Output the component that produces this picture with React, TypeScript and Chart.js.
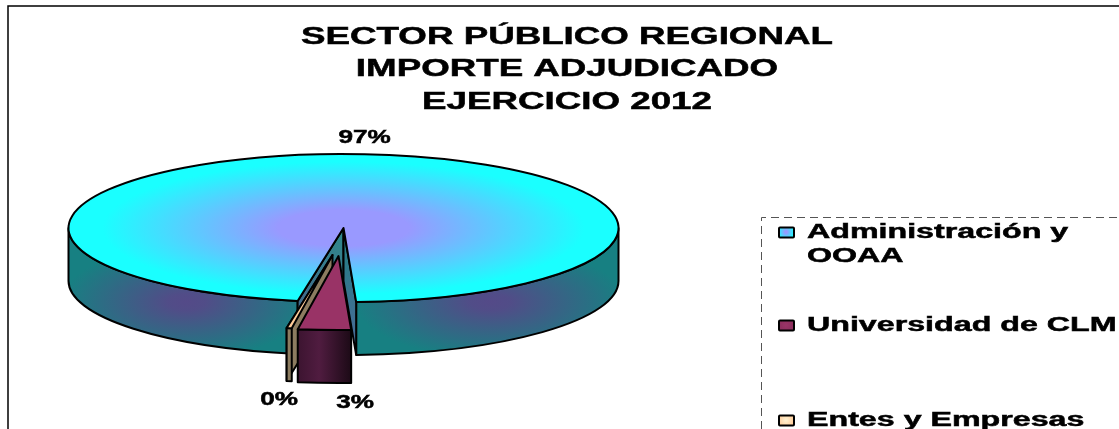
import React, { useEffect, useRef } from "react";
import { Chart, registerables } from "chart.js";

Chart.register(...registerables);

// ---- data ----
const categories = ["Administración y OOAA", "Universidad de CLM", "Entes y Empresas"];
const shares = [96.6, 3.1, 0.3];
const titleLines = ["SECTOR PÚBLICO REGIONAL", "IMPORTE ADJUDICADO", "EJERCICIO 2012"];

// ---- layout / style ----
const W = 1119;
const H = 429;
const FONT = '"Liberation Sans", Arial, sans-serif';
const RADIUS = 275;
const FLAT = 74 / 275;
const DEPTH = 53;
const FIRST_ANGLE = 189.6;
const sliceShift = [
  [0, 0],
  [-5, 28],
  [-11, 27],
];
const labelSpots = [
  [364.5, 143],
  [355, 408],
  [279, 405],
];
const titleBaselines = [44, 76, 109];
const legendBaselines = [238, 331, 426];

function stretchedText(
  ctx: CanvasRenderingContext2D,
  text: string,
  x: number,
  y: number,
  size: number,
  stretch: number,
  align: CanvasTextAlign
) {
  ctx.save();
  ctx.font = `bold ${size}px ${FONT}`;
  ctx.fillStyle = "#000";
  ctx.strokeStyle = "#000";
  ctx.lineWidth = 0.5;
  ctx.textAlign = align;
  ctx.textBaseline = "alphabetic";
  ctx.translate(x, y);
  ctx.scale(stretch, 1);
  ctx.fillText(text, 0, 0);
  ctx.strokeText(text, 0, 0);
  ctx.restore();
}

function wedgePath(ctx: CanvasRenderingContext2D, x: number, y: number, a: number, b: number) {
  ctx.beginPath();
  ctx.moveTo(x, y);
  ctx.ellipse(x, y, RADIUS, RADIUS * FLAT, 0, a, b);
  ctx.closePath();
}

function rim(x: number, y: number, a: number) {
  return [x + Math.cos(a) * RADIUS, y + Math.sin(a) * RADIUS * FLAT];
}

function outerWallPath(ctx: CanvasRenderingContext2D, x: number, y: number, a: number, b: number) {
  ctx.beginPath();
  ctx.ellipse(x, y, RADIUS, RADIUS * FLAT, 0, a, b);
  ctx.ellipse(x, y + DEPTH, RADIUS, RADIUS * FLAT, 0, b, a, true);
  ctx.closePath();
}

function radialWall(
  ctx: CanvasRenderingContext2D,
  x: number,
  y: number,
  a: number,
  fill: string | CanvasGradient
) {
  const [px, py] = rim(x, y, a);
  ctx.beginPath();
  ctx.moveTo(x, y);
  ctx.lineTo(px, py);
  ctx.lineTo(px, py + DEPTH);
  ctx.lineTo(x, y + DEPTH);
  ctx.closePath();
  ctx.fillStyle = fill;
  ctx.fill();
  ctx.stroke();
}

function visibleSpans(a: number, b: number) {
  const out: number[][] = [];
  for (const [lo, hi] of [
    [0, Math.PI],
    [2 * Math.PI, 3 * Math.PI],
  ]) {
    const s = Math.max(a, lo);
    const e = Math.min(b, hi);
    if (e > s) out.push([s, e]);
  }
  return out;
}

function glow(ctx: CanvasRenderingContext2D, cx: number, cy: number, rx: number, ry: number) {
  ctx.save();
  ctx.translate(cx, cy);
  ctx.scale(1, ry / rx);
  const g = ctx.createRadialGradient(0, 0, 0, 0, 0, rx);
  g.addColorStop(0, "rgba(84,74,136,1)");
  g.addColorStop(0.15, "rgba(84,74,136,0.95)");
  g.addColorStop(1, "rgba(84,74,136,0)");
  ctx.fillStyle = g;
  ctx.fillRect(-rx, -rx, rx * 2, rx * 2);
  ctx.restore();
}

const pie3d = {
  id: "pie3d",
  beforeDatasetsDraw(chart: any) {
    const ctx: CanvasRenderingContext2D = chart.ctx;
    const arcs = chart.getDatasetMeta(0).data;
    ctx.save();
    ctx.lineJoin = "round";
    ctx.strokeStyle = "#000";
    ctx.lineWidth = 2;

    // administration: the large body
    const main = arcs[0];
    const mx = main.x;
    const my = main.y;
    for (const [s, e] of visibleSpans(main.startAngle, main.endAngle)) {
      outerWallPath(ctx, mx, my, s, e);
      ctx.save();
      ctx.clip();
      ctx.fillStyle = "#178082";
      ctx.fillRect(0, 0, W, H);
      glow(ctx, mx - 157, my + 74, 125, 56);
      glow(ctx, mx + 147, my + 74, 135, 56);
      ctx.restore();
      outerWallPath(ctx, mx, my, s, e);
      ctx.stroke();
    }
    const leftFace = ctx.createLinearGradient(mx, my, rim(mx, my, main.startAngle)[0], my + 70);
    leftFace.addColorStop(0, "#2f8a8c");
    leftFace.addColorStop(1, "#3f6c8c");
    radialWall(ctx, mx, my, main.startAngle, leftFace);
    const rightFace = ctx.createLinearGradient(mx, my, mx, my + 120);
    rightFace.addColorStop(0, "#1f8082");
    rightFace.addColorStop(1, "#4a6a98");
    radialWall(ctx, mx, my, main.endAngle, rightFace);

    wedgePath(ctx, mx, my, main.startAngle, main.endAngle);
    ctx.save();
    ctx.clip();
    ctx.translate(mx, my);
    ctx.scale(1, 72 / 262);
    const top = ctx.createRadialGradient(0, 0, 0, 0, 0, 262);
    top.addColorStop(0, "#9999ff");
    top.addColorStop(0.25, "#9999ff");
    top.addColorStop(0.92, "#1affff");
    top.addColorStop(1, "#1affff");
    ctx.fillStyle = top;
    ctx.fillRect(-600, -800, 1200, 1600);
    ctx.restore();
    wedgePath(ctx, mx, my, main.startAngle, main.endAngle);
    ctx.stroke();

    // entes: thin sliver, behind the university slice
    const entes = arcs[2];
    const ex = entes.x + sliceShift[2][0];
    const ey = entes.y + sliceShift[2][1];
    radialWall(ctx, ex, ey, entes.endAngle, "#8c7c60");
    outerWallPath(ctx, ex, ey, entes.startAngle, entes.endAngle);
    ctx.fillStyle = "#8c7c60";
    ctx.fill();
    ctx.stroke();
    wedgePath(ctx, ex, ey, entes.startAngle, entes.endAngle);
    ctx.fillStyle = "#ffcc99";
    ctx.fill();
    ctx.stroke();

    // university: exploded slice
    const uni = arcs[1];
    const ux = uni.x + sliceShift[1][0];
    const uy = uni.y + sliceShift[1][1];
    const [lx] = rim(ux, uy, uni.endAngle);
    const [rx] = rim(ux, uy, uni.startAngle);
    const face = ctx.createLinearGradient(lx, 0, rx, 0);
    face.addColorStop(0, "#3c1430");
    face.addColorStop(0.4, "#501c40");
    face.addColorStop(1, "#1c0a16");
    outerWallPath(ctx, ux, uy, uni.startAngle, uni.endAngle);
    ctx.fillStyle = face;
    ctx.fill();
    ctx.stroke();
    wedgePath(ctx, ux, uy, uni.startAngle, uni.endAngle);
    ctx.fillStyle = "#993366";
    ctx.fill();
    ctx.stroke();

    ctx.restore();
    return false;
  },
  afterDraw(chart: any) {
    const ctx: CanvasRenderingContext2D = chart.ctx;
    const values: number[] = chart.data.datasets[0].data;
    const total = values.reduce((p, v) => p + v, 0);

    // chart frame: open at the right and bottom
    ctx.save();
    ctx.strokeStyle = "#000";
    ctx.lineWidth = 1.5;
    ctx.beginPath();
    ctx.moveTo(8, H);
    ctx.lineTo(8, 6);
    ctx.lineTo(W, 6);
    ctx.stroke();
    ctx.restore();

    titleLines.forEach((t, i) => stretchedText(ctx, t, 567, titleBaselines[i], 24, 1.53, "center"));

    values.forEach((v, i) => {
      const [x, y] = labelSpots[i];
      stretchedText(ctx, `${Math.round((v / total) * 100)}%`, x, y, 18, 1.45, "center");
    });

    // legend frame, dashed
    ctx.save();
    ctx.strokeStyle = "#555";
    ctx.lineWidth = 1;
    ctx.setLineDash([8, 5]);
    ctx.beginPath();
    ctx.moveTo(761.5, H);
    ctx.lineTo(761.5, 217.5);
    ctx.lineTo(W, 217.5);
    ctx.stroke();
    ctx.restore();

    // legend entries
    const swatches = [
      ["#9999ff", "#1affff"],
      ["#993366", "#8a2d5c"],
      ["#ffeecc", "#ffcc99"],
    ];
    categories.forEach((name, i) => {
      const base = legendBaselines[i];
      const g = ctx.createRadialGradient(786, base - 6, 1, 786, base - 6, 8);
      g.addColorStop(0, swatches[i][0]);
      g.addColorStop(1, swatches[i][1]);
      ctx.save();
      ctx.fillStyle = g;
      ctx.strokeStyle = "#000";
      ctx.lineWidth = 2;
      ctx.beginPath();
      ctx.roundRect(779, base - 10.5, 15, 10, 1);
      ctx.fill();
      ctx.stroke();
      ctx.restore();

      // wrap the label to the room left in the picture
      ctx.save();
      ctx.font = `bold 20px ${FONT}`;
      const stretch = 1.61;
      const lines: string[] = [];
      let line = "";
      for (const word of name.split(" ")) {
        const next = line ? `${line} ${word}` : word;
        if (ctx.measureText(next).width * stretch > 316 && line) {
          lines.push(line);
          line = word;
        } else {
          line = next;
        }
      }
      lines.push(line);
      ctx.restore();
      lines.forEach((l, n) => stretchedText(ctx, l, 807, base + n * 24, 20, stretch, "left"));
    });
  },
};

export default function App() {
  const ref = useRef<HTMLCanvasElement>(null);
  useEffect(() => {
    const chart = new Chart(ref.current as HTMLCanvasElement, {
      type: "pie",
      data: {
        labels: categories,
        datasets: [{ data: shares, backgroundColor: ["#1affff", "#993366", "#ffcc99"] }],
      },
      options: {
        animation: false,
        responsive: false,
        radius: RADIUS,
        rotation: FIRST_ANGLE,
        layout: { padding: { left: 69, right: 501, top: 154, bottom: 127 } },
        plugins: { legend: { display: false }, title: { display: false }, tooltip: { enabled: false } },
      },
      plugins: [pie3d],
    } as any);
    return () => chart.destroy();
  }, []);
  return (
    <div style={{ position: "absolute", left: 0, top: 0, width: W, height: H, background: "#fff" }}>
      <canvas ref={ref} width={W} height={H} style={{ display: "block" }} />
    </div>
  );
}
